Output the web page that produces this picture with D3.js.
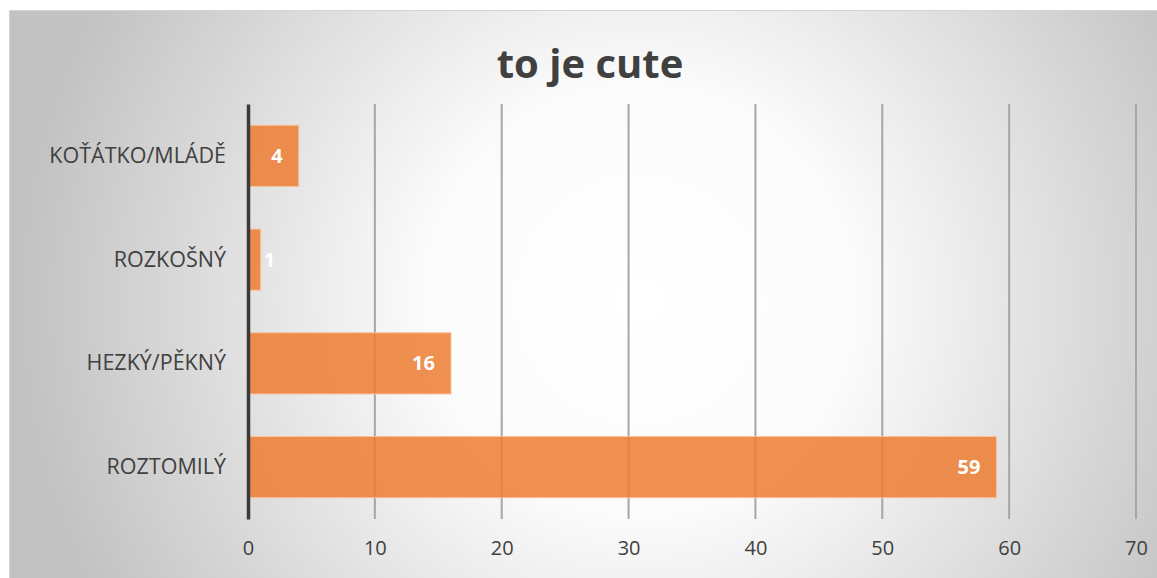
<!DOCTYPE html>
<html>
<head>
<meta charset="utf-8">
<script src="https://cdn.jsdelivr.net/npm/d3@7"></script>
<style>
  body { margin: 0; background: #fff; }
  svg { display: block; font-family: "Open Sans", "Noto Sans", sans-serif; }
</style>
</head>
<body>
<svg id="chart" width="1157" height="578"></svg>
<script>
// chart data
const categories = ["KOŤÁTKO/MLÁDĚ", "ROZKOŠNÝ", "HEZKÝ/PĚKNÝ", "ROZTOMILÝ"];
const values = [4, 1, 16, 59];
const xTicks = [0, 10, 20, 30, 40, 50, 60, 70];
const title = "to je cute";

let width = 1157, height = 578;
let margin = { top: 104, right: 21, bottom: 59, left: 248 };

let svg = d3.select("#chart");

// background with soft radial light
let defs = svg.append("defs");
let grad = defs.append("radialGradient")
  .attr("id", "bg")
  .attr("gradientUnits", "userSpaceOnUse")
  .attr("cx", 640).attr("cy", 300).attr("r", 620);
grad.append("stop").attr("offset", "0").attr("stop-color", "#ffffff");
grad.append("stop").attr("offset", "0.35").attr("stop-color", "#fbfbfb");
grad.append("stop").attr("offset", "1").attr("stop-color", "#c2c2c2");

svg.append("rect")
  .attr("x", 9.5).attr("y", 10.5)
  .attr("width", width - 9).attr("height", height - 10)
  .attr("fill", "url(#bg)")
  .attr("stroke", "#d4d4d4")
  .attr("stroke-width", 1);

// title
svg.append("text")
  .attr("x", 590).attr("y", 78)
  .attr("text-anchor", "middle")
  .attr("fill", "#404040")
  .style("font-size", "40px")
  .style("font-weight", "bold")
  .text(title);

let x = d3.scaleLinear()
  .domain([0, 70])
  .range([margin.left, width - margin.right]);

let y = d3.scaleBand()
  .domain(categories)
  .range([margin.top, height - margin.bottom])
  .paddingInner(0.41)
  .paddingOuter(0.205);

// gridlines
svg.append("g")
  .selectAll("line")
  .data(xTicks.filter(d => d > 0))
  .enter()
  .append("line")
    .attr("x1", d => x(d)).attr("x2", d => x(d))
    .attr("y1", margin.top).attr("y2", height - margin.bottom)
    .attr("stroke", "#a6a6a6")
    .attr("stroke-width", 2);

// bars
svg.append("g")
  .selectAll("rect")
  .data(categories)
  .enter()
  .append("rect")
    .attr("x", x(0))
    .attr("y", d => y(d))
    .attr("width", (d, i) => x(values[i]) - x(0))
    .attr("height", y.bandwidth())
    .attr("fill", "#ed7d31")
    .attr("fill-opacity", 0.85)
    .attr("stroke", "#f6c3a0")
    .attr("stroke-width", 1);

// value labels (inside end)
svg.append("g")
  .selectAll("text")
  .data(categories)
  .enter()
  .append("text")
    .attr("x", (d, i) => x(values[i]) - 16)
    .attr("y", d => y(d) + y.bandwidth() / 2)
    .attr("dy", "0.35em")
    .attr("text-anchor", "end")
    .attr("fill", "#ffffff")
    .style("font-size", "20px")
    .style("font-weight", "bold")
    .text((d, i) => values[i])
    .each(function (d, i) {
      // very small bar: label spills past the bar end like in the original
      if (x(values[i]) - x(0) < 20) {
        d3.select(this).attr("text-anchor", "start").attr("x", x(values[i]) + 3);
      }
    });

// category axis
let yAxis = d3.axisLeft(y).tickSize(0).tickPadding(22);
let yg = svg.append("g")
  .attr("transform", `translate(${margin.left},0)`)
  .call(yAxis);
yg.select(".domain")
  .attr("stroke", "#3a3a3a")
  .attr("stroke-width", 3.5);
yg.selectAll("text")
  .attr("fill", "#404040")
  .style("font-size", "21.5px")
  .style("font-family", "\"Open Sans\", \"Noto Sans\", sans-serif");

// value axis labels
let xAxis = d3.axisBottom(x).tickValues(xTicks).tickSize(0).tickPadding(22);
let xg = svg.append("g")
  .attr("transform", `translate(0,${height - margin.bottom})`)
  .call(xAxis);
xg.select(".domain").remove();
xg.selectAll("text")
  .attr("fill", "#404040")
  .style("font-size", "20px")
  .style("font-family", "\"Open Sans\", \"Noto Sans\", sans-serif");
</script>
</body>
</html>
